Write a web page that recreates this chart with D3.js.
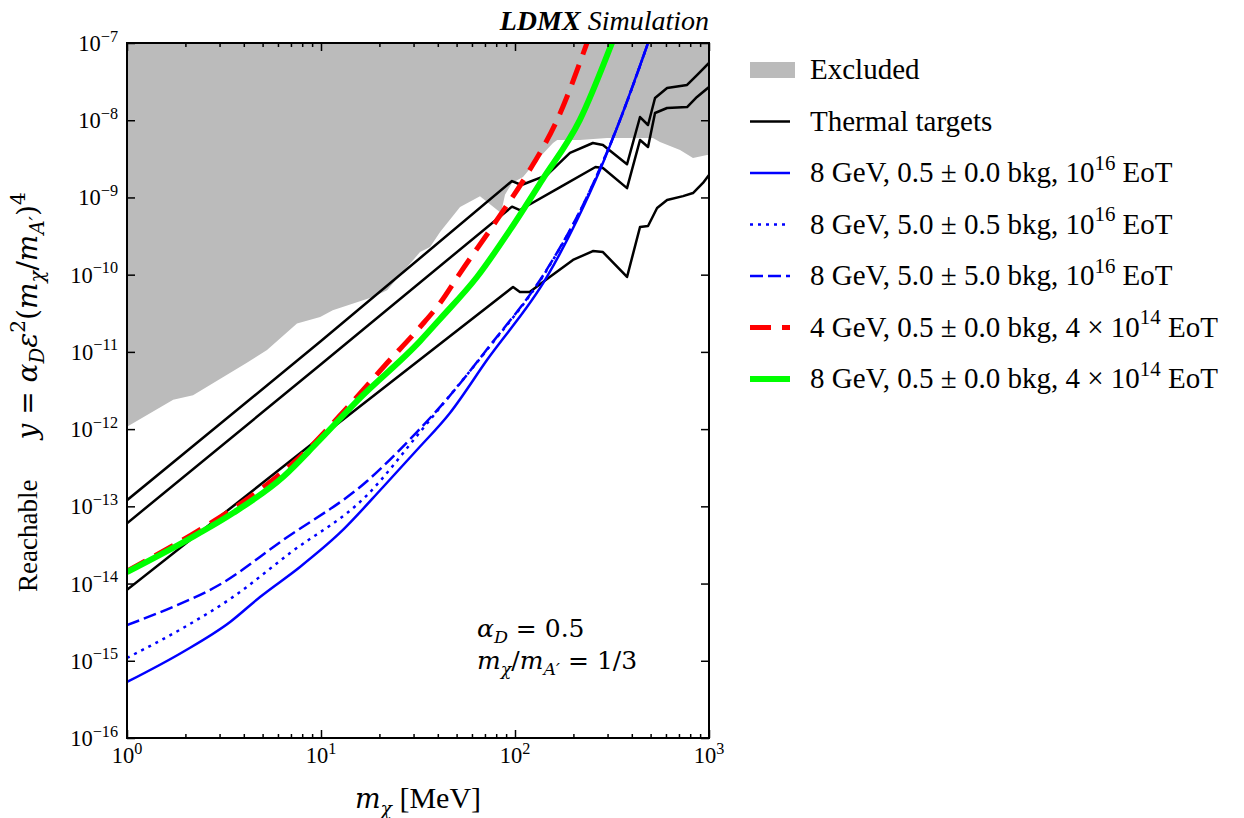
<!DOCTYPE html>
<html><head><meta charset="utf-8">
<script src="https://cdn.jsdelivr.net/npm/d3@7"></script>
<style>
body{margin:0;background:#fff}
text{font-family:"Liberation Serif","Times New Roman",serif;fill:#000}
</style>
</head><body>
<svg id="chart" width="1244" height="818"></svg>
<script>
// ---------- data (mass in MeV, y = alpha_D eps^2 (m_chi/m_A')^4) ----------
const excludedBoundary = [[1,1.07e-12],[1.73,2.40e-12],[2.19,2.75e-12],[4.15,7.24e-12],[5.27,1.06e-11],[7.52,2.34e-11],[9.9,2.82e-11],[11.5,3.47e-11],[18.5,5.13e-11],[21.9,6.3e-11],[32.4,1.96e-10],[36.5,2.28e-10],[41.1,3.56e-10],[52.1,7.52e-10],[66.0,1.04e-9],[84.7,6.30e-10],[88.8,1.08e-9],[96.5,1.54e-9],[110,1.84e-9],[130,3.05e-9],[157,5.07e-9],[165,5.55e-9],[216,5.55e-9],[298,5.89e-9],[514,5.89e-9],[559,5.22e-9],[709,4.11e-9],[827,3.24e-9],[977,3.55e-9],[1000,3.55e-9]];

const thermalUpper = [[1,1.20e-13],[10,1.38e-11],[96.5,1.63e-9],[108,1.45e-9],[146,1.95e-9],[192,3.77e-9],[252,5.07e-9],[284,4.78e-9],[378,2.69e-9],[441,1.10e-8],[485,8.67e-9],[527,1.94e-8],[608,2.61e-8],[771,2.86e-8],[867,3.85e-8],[1000,5.51e-8]];
const thermalMiddle = [[1,6.03e-14],[10,6.92e-12],[96.5,7.6e-10],[106,6.87e-10],[171,1.36e-9],[260,2.48e-9],[284,2.40e-9],[378,1.32e-9],[441,5.55e-9],[485,4.50e-9],[527,1.24e-8],[608,1.44e-8],[771,1.48e-8],[867,2.00e-8],[1000,2.69e-8]];
const thermalLower = [[1,8.32e-15],[10,7.94e-13],[97.7,6.92e-11],[106,5.96e-11],[119,5.96e-11],[151,9.33e-11],[199,1.55e-10],[252,2.02e-10],[284,1.96e-10],[378,9.33e-11],[441,4.14e-10],[485,4.27e-10],[540,7.29e-10],[608,9.27e-10],[735,1.04e-9],[827,1.14e-9],[931,1.54e-9],[1000,1.95e-9]];

const blue8GeVLowBkg = [[1,5.31e-16],[1.94,1.30e-15],[3.40,3.18e-15],[4.85,6.70e-15],[7.79,1.64e-14],[12.5,4.52e-14],[20.9,1.78e-13],[31.2,5.36e-13],[46.2,1.62e-12],[71.7,7.85e-12],[146,9.33e-11],[209,5.11e-10],[274,2.26e-9],[348,1.01e-8],[485,1e-7]];
const blue8GeVBkg5small = [[1,1.09e-15],[1.94,2.65e-15],[3.40,6.31e-15],[6.92,2.48e-14],[17.3,1.40e-13],[32.4,9.16e-13],[44.6,2.45e-12],[71.7,1.06e-11],[146,1.15e-10],[235,1.01e-9],[348,1.01e-8],[485,1e-7]];
const blue8GeVBkg5large = [[1,2.90e-15],[1.67,4.82e-15],[2.98,9.57e-15],[6.37,3.66e-14],[17.3,2.13e-13],[31.2,9.16e-13],[44.6,2.45e-12],[71.7,1.08e-11],[146,1.17e-10],[235,1.02e-9],[348,1.01e-8],[485,1e-7]];
const red4GeV = [[1,1.45e-14],[2.38,5.0e-14],[4.31,1.32e-13],[7.79,4.36e-13],[13.6,1.88e-12],[21.9,7.18e-12],[32.4,2.10e-11],[41.1,4.30e-11],[52.1,1.05e-10],[80.7,5.11e-10],[119,2.26e-9],[165,1.01e-8],[235,1e-7]];
const green8GeV = [[1,1.41e-14],[2.04,3.66e-14],[3.52,8.18e-14],[6.37,2.40e-13],[9.52,6.61e-13],[15.5,2.38e-12],[32.4,1.38e-11],[41.1,2.67e-11],[63.7,9.33e-11],[94.3,3.80e-10],[138,1.68e-9],[216,1.01e-8],[316,1e-7]];

const xMajorTicks = [1,10,100,1000];
const xTickExps = [0,1,2,3];
const yMajorTicks = [1e-16,1e-15,1e-14,1e-13,1e-12,1e-11,1e-10,1e-9,1e-8,1e-7];
const yTickExps = [-16,-15,-14,-13,-12,-11,-10,-9,-8,-7];

const legendLabels = [
  [["Excluded",""]],
  [["Thermal targets",""]],
  [["8 GeV, 0.5 ± 0.0 bkg, 10",""],["16","sup"],[" EoT",""]],
  [["8 GeV, 5.0 ± 0.5 bkg, 10",""],["16","sup"],[" EoT",""]],
  [["8 GeV, 5.0 ± 5.0 bkg, 10",""],["16","sup"],[" EoT",""]],
  [["4 GeV, 0.5 ± 0.0 bkg, 4 × 10",""],["14","sup"],[" EoT",""]],
  [["8 GeV, 0.5 ± 0.0 bkg, 4 × 10",""],["14","sup"],[" EoT",""]]
];

// ---------- layout ----------
const L=127,R=709,T=43,B=738;
const svg=d3.select('#chart');
const x=d3.scaleLog().domain([1,1000]).range([L,R]);
const y=d3.scaleLog().domain([1e-16,1e-7]).range([B,T]);

// rich text: parts = [text, flags, dx]; flags: i (italic) b (bold) sub sup m (math font)
function rich(sel, parts, fs, mfs){
  let off=0;
  parts.forEach(([t,s,dx])=>{
    const f=(s||'').split(' ');
    const base=f.includes('m')?(mfs||fs):fs;
    const ts=sel.append('tspan').text(t);
    let target=0,size=base;
    if(f.includes('sub')){target=base*0.25;size=base*0.7;}
    if(f.includes('sup')){target=-base*0.42;size=base*0.72;}
    ts.attr('dy',(target-off).toFixed(2)); off=target;
    ts.attr('font-size',size.toFixed(1));
    if(f.includes('m')) ts.attr('font-family','"DejaVu Serif",serif');
    if(f.includes('i')) ts.attr('font-style','italic');
    if(f.includes('b')) ts.attr('font-weight','bold');
    if(dx) ts.attr('dx',dx);
  });
}

svg.append('defs').append('clipPath').attr('id','plotclip')
  .append('rect').attr('x',L).attr('y',T).attr('width',R-L).attr('height',B-T);
const plot=svg.append('g').attr('clip-path','url(#plotclip)');

// excluded region
const area=d3.area().x(d=>x(d[0])).y0(()=>y(1e-7)).y1(d=>y(d[1]));
plot.append('path').datum(excludedBoundary).attr('d',area).attr('fill','#bbbbbb');

const lin=d3.line().x(d=>x(d[0])).y(d=>y(d[1]));
const smooth=d3.line().x(d=>x(d[0])).y(d=>y(d[1])).curve(d3.curveMonotoneX);

[thermalUpper,thermalMiddle,thermalLower].forEach(s=>{
  plot.append('path').datum(s).attr('d',lin).attr('fill','none')
    .attr('stroke','#000').attr('stroke-width',2.5).attr('stroke-linejoin','round');
});

const series=[
  {d:blue8GeVLowBkg,c:'#0000ff',w:2.5,dash:null},
  {d:blue8GeVBkg5small,c:'#0000ff',w:2.5,dash:'3,5'},
  {d:blue8GeVBkg5large,c:'#0000ff',w:2.5,dash:'13,5'},
  {d:red4GeV,c:'#ff0000',w:5,dash:'21,11'},
  {d:green8GeV,c:'#00ff00',w:6,dash:null}
];
series.forEach(s=>{
  const p=plot.append('path').datum(s.d).attr('d',smooth).attr('fill','none')
    .attr('stroke',s.c).attr('stroke-width',s.w);
  if(s.dash) p.attr('stroke-dasharray',s.dash);
});

// ---------- axes / ticks ----------
const xMinor=[];
for(let dec=1;dec<1000;dec*=10) for(let k=2;k<=9;k++) xMinor.push(dec*k);

function styleAxis(g){ g.select('.domain').remove(); g.selectAll('line').attr('stroke','#000').attr('stroke-width',1.5); }
svg.append('g').attr('transform',`translate(0,${B})`).call(d3.axisBottom(x).tickValues(xMajorTicks).tickSize(-8).tickFormat('')).call(styleAxis);
svg.append('g').attr('transform',`translate(0,${B})`).call(d3.axisBottom(x).tickValues(xMinor).tickSize(-4).tickFormat('')).call(styleAxis);
svg.append('g').attr('transform',`translate(0,${T})`).call(d3.axisTop(x).tickValues(xMajorTicks).tickSize(-8).tickFormat('')).call(styleAxis);
svg.append('g').attr('transform',`translate(0,${T})`).call(d3.axisTop(x).tickValues(xMinor).tickSize(-4).tickFormat('')).call(styleAxis);
svg.append('g').attr('transform',`translate(${L},0)`).call(d3.axisLeft(y).tickValues(yMajorTicks).tickSize(-8).tickFormat('')).call(styleAxis);
svg.append('g').attr('transform',`translate(${R},0)`).call(d3.axisRight(y).tickValues(yMajorTicks).tickSize(-8).tickFormat('')).call(styleAxis);

svg.append('rect').attr('x',L).attr('y',T).attr('width',R-L).attr('height',B-T)
  .attr('fill','none').attr('stroke','#000').attr('stroke-width',2);

const tickFs=22.5;
xMajorTicks.forEach((v,i)=>{
  const t=svg.append('text').attr('x',x(v)).attr('y',763).attr('text-anchor','middle').attr('font-size',tickFs);
  rich(t,[['10',''],[String(xTickExps[i]),'sup']],tickFs);
});
yMajorTicks.forEach((v,i)=>{
  const t=svg.append('text').attr('x',L-9).attr('y',y(v)+8).attr('text-anchor','end').attr('font-size',tickFs);
  rich(t,[['10',''],['−'+(-yTickExps[i]),'sup']],tickFs);
});

// axis labels
const xl=svg.append('text').attr('x',(L+R)/2).attr('y',808).attr('text-anchor','middle').attr('font-size',30);
rich(xl,[['m','m i'],['χ','m i sub'],[' [MeV]','']],30,27);
const yl=svg.append('text').attr('transform',`translate(37,592) rotate(-90)`).attr('text-anchor','start').attr('font-size',27);
rich(yl,[['Reachable',''],['y','m i',40],[' = ','m'],['α','m i'],['D','m i sub'],['ε','m i'],['2','m sup'],['(','m'],['m','m i'],['χ','m i sub'],['/','m'],['m','m i'],['A′','m i sub'],[')','m'],['4','m sup']],27,28);

// title
const tt=svg.append('text').attr('x',R).attr('y',30).attr('text-anchor','end').attr('font-size',28);
rich(tt,[['LDMX','b i'],[' Simulation','i']],28);

// annotation
const annFs=25;
const a1=svg.append('text').attr('x',477).attr('y',637).attr('font-size',annFs);
rich(a1,[['α','m i'],['D','m i sub'],[' = 0.5','m']],annFs,annFs);
const a2=svg.append('text').attr('x',477).attr('y',669).attr('font-size',annFs);
rich(a2,[['m','m i'],['χ','m i sub'],['/','m'],['m','m i'],['A′','m i sub'],[' = 1/3','m']],annFs,annFs);

// ---------- legend ----------
const legFs=29, legY0=70, legDy=51.5;
const legend=svg.append('g');
legendLabels.forEach((lab,i)=>{
  const cy=legY0+i*legDy;
  if(i===0){
    legend.append('rect').attr('x',750).attr('y',cy-8).attr('width',45).attr('height',16).attr('fill','#bbbbbb');
  } else {
    const st = i===1 ? {c:'#000',w:2.5,dash:null} : series[i-2];
    const ln=legend.append('line').attr('x1',750).attr('x2',790).attr('y1',cy).attr('y2',cy)
      .attr('stroke',st.c).attr('stroke-width',st.w);
    if(st.dash) ln.attr('stroke-dasharray',st.dash);
  }
  const t=legend.append('text').attr('x',810).attr('y',cy+9).attr('font-size',legFs);
  rich(t,lab,legFs);
});
</script>
</body></html>
